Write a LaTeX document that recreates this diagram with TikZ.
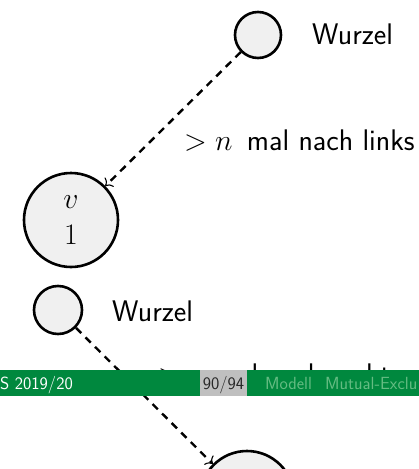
\RequirePackage{fix-cm}
\documentclass[tikz,border=0pt]{standalone}
\usetikzlibrary{arrows.meta}
\definecolor{nodefill}{RGB}{240,240,240}
\definecolor{footgreen}{RGB}{0,136,62}
\definecolor{footlight}{RGB}{100,188,130}
\definecolor{footgrey}{RGB}{191,191,191}
\definecolor{footdark}{RGB}{40,40,40}
\begin{document}
\begin{tikzpicture}[x=1pt,y=-1pt,
  treenode/.style={circle,draw=black,line width=2.6pt,fill=nodefill,inner sep=0pt},
  bigtext/.style={font=\fontsize{29.8}{36}\selectfont\sffamily,inner sep=0pt},
  foottext/.style={font=\fontsize{17.6}{20}\selectfont\sffamily,inner sep=0pt},
  pathlink/.style={line width=2.4pt,dash pattern=on 7.5pt off 6pt,
    -{To[line width=1.1pt,length=6pt,width=13pt]}}]
  \useasboundingbox (0,0) rectangle (419,469);
  \clip (0,0) rectangle (419,469);

  % upper tree: root and left descendant v
  \node[treenode,minimum size=46pt] (rootA) at (258,35) {};
  \node[bigtext,anchor=base west] (wurzelA) at (312,44) {Wurzel};
  \node[treenode,minimum size=94pt,bigtext,align=center] (v) at (71,220) {$v$\\$1$};
  \draw[pathlink] (rootA) -- (v);
  \node[bigtext,anchor=base west] (leftlbl) at (184,150) {$>n$\hspace{5pt} mal nach links};

  % lower tree: root and right descendant
  \node[treenode,minimum size=48pt] (rootB) at (58,310) {};
  \node[bigtext,anchor=base west] (wurzelB) at (112,321) {Wurzel};
  \node[treenode,minimum size=94pt] (w) at (247,498) {};
  \draw[pathlink] (rootB) -- (w);
  \node[bigtext,anchor=base west] (rightlbl) at (158,384) {$>n$ mal nach rechts};

  % footline
  \fill[footgreen] (0,370) rectangle (419,396);
  \fill[footgrey] (200,370) rectangle (247,396);
  \node[foottext,anchor=base west,text=white] (term) at (0,389) {S 2019/20};
  \node[foottext,anchor=base,text=footdark] (pageno) at (223.5,389) {90/94};
  \node[foottext,anchor=base west,text=footlight] (sec1) at (265,389) {Modell};
  \node[foottext,anchor=base west,text=footlight] (sec2) at (325,389) {Mutual-Exclu};
\end{tikzpicture}
\end{document}
